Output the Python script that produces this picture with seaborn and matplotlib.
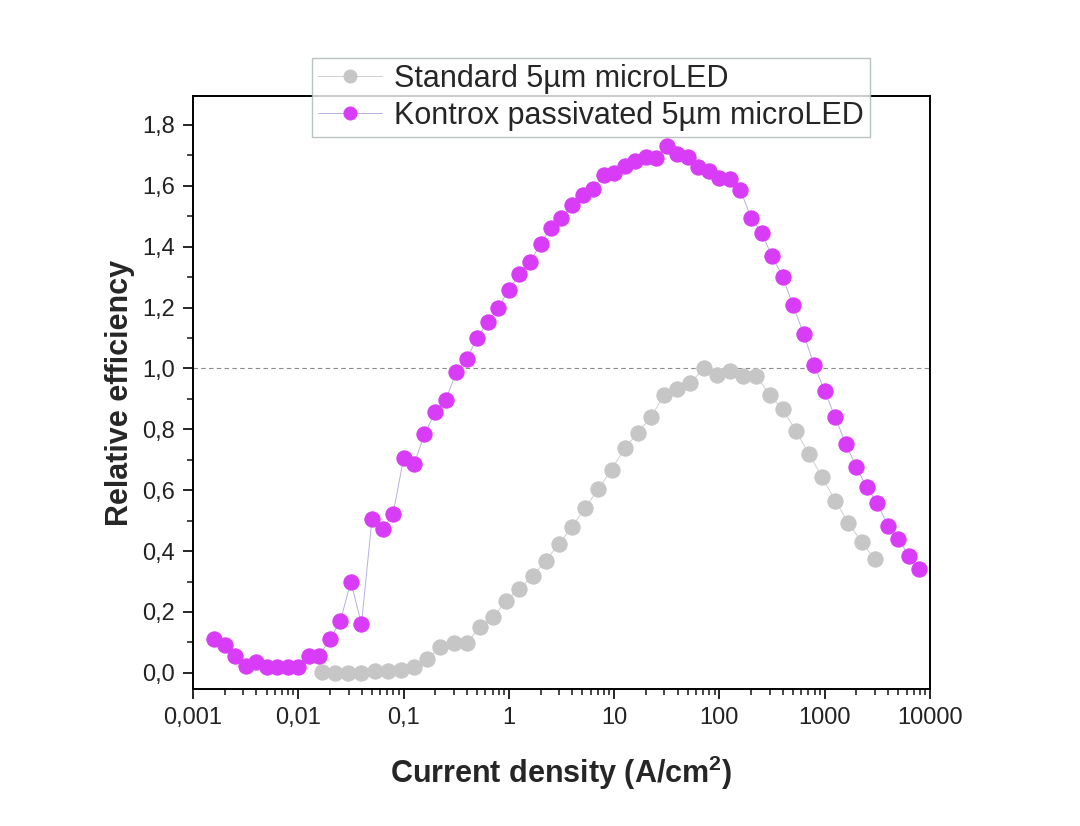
import numpy as np
import pandas as pd
import matplotlib
matplotlib.use("Agg")
import matplotlib.pyplot as plt
import matplotlib.ticker as mticker
import seaborn as sns

# dane
standard_label = "Standard 5µm microLED"
kontrox_label = "Kontrox passivated 5µm microLED"

standard_j = [0.0168, 0.0224, 0.0299, 0.0398, 0.0531, 0.0708, 0.0944, 0.126, 0.168,
              0.224, 0.299, 0.398, 0.531, 0.708, 0.944, 1.26, 1.68, 2.24, 2.99, 3.98,
              5.31, 7.08, 9.44, 12.6, 16.8, 22.4, 29.9, 39.8, 53.1, 70.8, 94.4, 126,
              168, 224, 299, 398, 531, 708, 944, 1259, 1679, 2239, 2985]
standard_eff = [0.003, 0.0, 0.0, 0.0, 0.005, 0.005, 0.01, 0.02, 0.045, 0.085, 0.097,
                0.097, 0.15, 0.182, 0.237, 0.276, 0.317, 0.369, 0.423, 0.48, 0.542,
                0.604, 0.668, 0.738, 0.789, 0.84, 0.914, 0.932, 0.952, 1.0, 0.979,
                0.99, 0.976, 0.976, 0.913, 0.866, 0.796, 0.719, 0.643, 0.566, 0.492,
                0.431, 0.373]

kontrox_j = [0.00158, 0.002, 0.00251, 0.00316, 0.00398, 0.00501, 0.00631, 0.00794,
             0.01, 0.0126, 0.0158, 0.02, 0.0251, 0.0316, 0.0398, 0.0501, 0.0631, 0.0794,
             0.1, 0.126, 0.158, 0.2, 0.251, 0.316, 0.398, 0.501, 0.631, 0.794,
             1, 1.26, 1.58, 2, 2.51, 3.16, 3.98, 5.01, 6.31, 7.94,
             10, 12.6, 15.8, 20, 25.1, 31.6, 39.8, 50.1, 63.1, 79.4,
             100, 126, 158, 200, 251, 316, 398, 501, 631, 794,
             1000, 1259, 1585, 1995, 2512, 3162, 3981, 5012, 6310, 7943]
kontrox_eff = [0.11, 0.09, 0.055, 0.022, 0.036, 0.02, 0.02, 0.02, 0.02, 0.056, 0.056,
               0.11, 0.17, 0.30, 0.16, 0.505, 0.472, 0.521, 0.705, 0.686, 0.784, 0.857,
               0.895, 0.987, 1.031, 1.101, 1.152, 1.2, 1.259, 1.311, 1.35, 1.408, 1.463,
               1.495, 1.536, 1.571, 1.591, 1.635, 1.641, 1.664, 1.682, 1.696, 1.69, 1.731,
               1.705, 1.696, 1.661, 1.65, 1.625, 1.622, 1.587, 1.494, 1.446, 1.368, 1.302,
               1.207, 1.113, 1.01, 0.926, 0.839, 0.752, 0.676, 0.609, 0.557, 0.483, 0.44,
               0.384, 0.341]

x_ticks = [0.001, 0.01, 0.1, 1, 10, 100, 1000, 10000]
x_ticklabels = ["0,001", "0,01", "0,1", "1", "10", "100", "1000", "10000"]

df_std = pd.DataFrame({"J": standard_j, "eff": standard_eff})
df_kon = pd.DataFrame({"J": kontrox_j, "eff": kontrox_eff})

sns.set_style("ticks")
plt.rcParams["font.family"] = ["Liberation Sans", "DejaVu Sans"]
plt.rcParams["mathtext.fontset"] = "custom"
plt.rcParams["mathtext.bf"] = "Liberation Sans:bold"
plt.rcParams["mathtext.rm"] = "Liberation Sans"

fig = plt.figure(figsize=(10.8, 8.26), dpi=100)
ax = fig.add_axes([193 / 1080, 137 / 826, (930 - 193) / 1080, (689 - 96) / 826])

ax.axhline(1.0, color="#8c8c8c", lw=0.8, ls=(0, (4, 3)), zorder=1)

sns.lineplot(data=df_std, x="J", y="eff", ax=ax, color="#cfcfcf", lw=0.7,
             marker="o", markersize=11, markerfacecolor="#c6c6c6",
             markeredgecolor="#c6c6c6", label=standard_label, zorder=2)
sns.lineplot(data=df_kon, x="J", y="eff", ax=ax, color="#b7b0de", lw=0.7,
             marker="o", markersize=11, markerfacecolor="#d93cf7",
             markeredgecolor="#d93cf7", label=kontrox_label, zorder=3)

ax.set_xscale("log")
ax.set_xlim(0.001, 10000)
ax.set_ylim(-0.053, 1.895)
ax.set_xticks(x_ticks)
ax.set_xticklabels(x_ticklabels)
ax.xaxis.set_minor_locator(mticker.LogLocator(base=10, subs=np.arange(2, 10)))
ax.xaxis.set_minor_formatter(mticker.NullFormatter())
ax.yaxis.set_major_locator(mticker.MultipleLocator(0.2))
ax.yaxis.set_minor_locator(mticker.MultipleLocator(0.1))
ax.yaxis.set_major_formatter(mticker.FuncFormatter(lambda v, p: f"{v:.1f}".replace(".", ",")))

ax.tick_params(which="major", direction="out", length=7, width=1.4, labelsize=17,
               labelcolor="#222222", pad=6)
ax.tick_params(which="minor", direction="out", length=4, width=1.2)
ax.tick_params(top=False, right=False, which="both")
for s in ax.spines.values():
    s.set_linewidth(1.4)
    s.set_color("black")

ax.set_xlabel(r"Current density (A/cm$^\mathbf{2}$)", fontsize=22, fontweight="bold",
              labelpad=18)
ax.set_ylabel("Relative efficiency", fontsize=22, fontweight="bold", labelpad=5)

handles, labels = ax.get_legend_handles_labels()
ax.get_legend().remove()
leg = fig.legend(handles, labels, loc="upper left",
                 bbox_to_anchor=(312 / 1080, 1 - 58 / 826), borderaxespad=0,
                 fontsize=22, frameon=True, fancybox=False, edgecolor="#a9b3b3",
                 borderpad=0.2, labelspacing=0.22, handlelength=2.1,
                 handletextpad=0.4, markerscale=0.85)
leg.get_frame().set_linewidth(1.0)

fig.savefig("out.png", dpi=100)
